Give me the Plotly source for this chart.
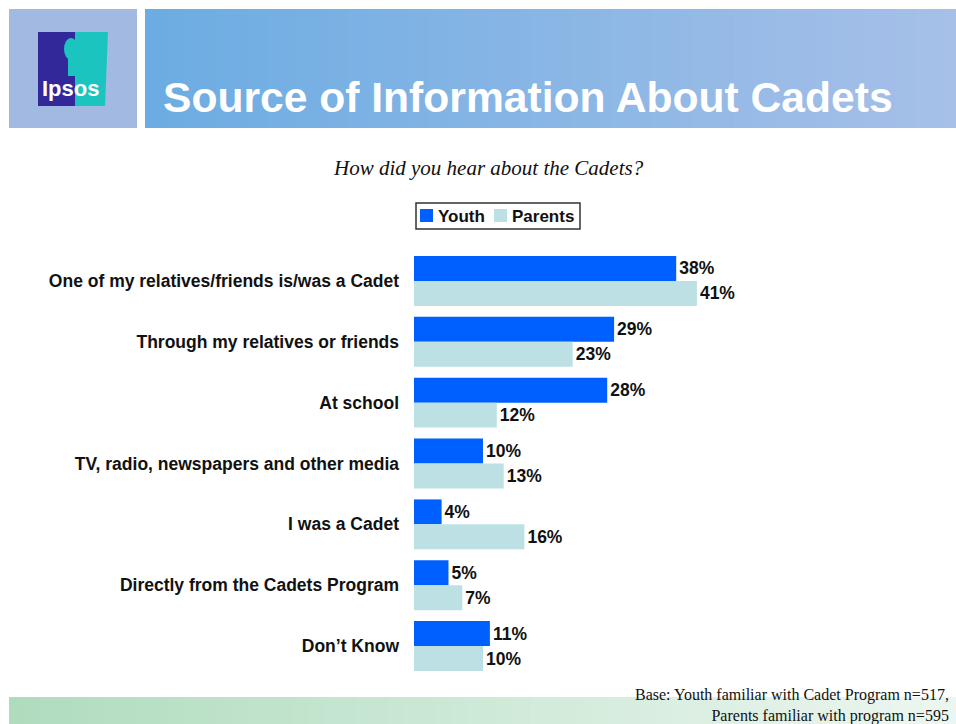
import plotly.graph_objects as go

W, H = 956, 724

categories = [
    "One of my relatives/friends is/was a Cadet",
    "Through my relatives or friends",
    "At school",
    "TV, radio, newspapers and other media",
    "I was a Cadet",
    "Directly from the Cadets Program",
    "Don\u2019t Know",
]
youth = [38, 29, 28, 10, 4, 5, 11]
parents = [41, 23, 12, 13, 16, 7, 10]
series_names = ["Youth", "Parents"]

YOUTH_COLOR = "#0060ff"
PARENT_COLOR = "#bce0e4"
SANS = "Liberation Sans, Arial"
SERIF = "Liberation Serif, Times New Roman"


def px_x(p):
    return p / W


def px_y(p):
    return 1 - p / H


def lerp(c1, c2, t):
    return "rgb(%d,%d,%d)" % tuple(round(a + (b - a) * t) for a, b in zip(c1, c2))


fig = go.Figure()
bar_common = dict(orientation="h", texttemplate="<b>%{x}%</b>", textposition="outside",
                  textfont=dict(family=SANS, size=17.5, color="#111111"),
                  cliponaxis=False, showlegend=False)
fig.add_trace(go.Bar(y=categories, x=youth, name=series_names[0],
                     marker=dict(color=YOUTH_COLOR, line=dict(width=0)), **bar_common))
fig.add_trace(go.Bar(y=categories, x=parents, name=series_names[1],
                     marker=dict(color=PARENT_COLOR, line=dict(width=0)), **bar_common))

shapes = []
# header banner gradient
n = 80
x0, x1 = 145, 956
for i in range(n):
    a = x0 + (x1 - x0) * i / n
    b = x0 + (x1 - x0) * (i + 1) / n + 0.8
    shapes.append(dict(type="rect", xref="paper", yref="paper", layer="below",
                       x0=px_x(a), x1=px_x(b), y0=px_y(128), y1=px_y(9),
                       fillcolor=lerp((108, 172, 226), (166, 192, 232), i / (n - 1)),
                       line=dict(width=0)))
# logo panel
shapes.append(dict(type="rect", xref="paper", yref="paper", layer="below",
                   x0=px_x(9), x1=px_x(137), y0=px_y(128), y1=px_y(9),
                   fillcolor="#a2bae2", line=dict(width=0)))
shapes.append(dict(type="rect", xref="paper", yref="paper",
                   x0=px_x(38), x1=px_x(75), y0=px_y(106), y1=px_y(32),
                   fillcolor="#33289a", line=dict(width=0)))
shapes.append(dict(type="path", xref="paper", yref="paper",
                   path="M %f,%f L %f,%f L %f,%f L %f,%f Z" % (
                       px_x(75), px_y(32), px_x(108), px_y(32),
                       px_x(105), px_y(106), px_x(75), px_y(106)),
                   fillcolor="#1cc4c0", line=dict(width=0)))
# head silhouette
shapes.append(dict(type="circle", xref="paper", yref="paper",
                   x0=px_x(64), x1=px_x(78), y0=px_y(60), y1=px_y(38),
                   fillcolor="#1cc4c0", line=dict(width=0)))
shapes.append(dict(type="rect", xref="paper", yref="paper",
                   x0=px_x(68), x1=px_x(76), y0=px_y(76), y1=px_y(58),
                   fillcolor="#1cc4c0", line=dict(width=0)))
# footer gradient
m = 60
for i in range(m):
    a = 9 + (956 - 9) * i / m
    b = 9 + (956 - 9) * (i + 1) / m + 0.8
    shapes.append(dict(type="rect", xref="paper", yref="paper", layer="below",
                       x0=px_x(a), x1=px_x(b), y0=px_y(724), y1=px_y(697),
                       fillcolor=lerp((176, 220, 190), (236, 246, 240), i / (m - 1)),
                       line=dict(width=0)))

# legend box with two swatches
shapes.append(dict(type="rect", xref="paper", yref="paper",
                   x0=px_x(416), x1=px_x(580), y0=px_y(229), y1=px_y(203),
                   fillcolor="white", line=dict(color="#333333", width=1.5)))
legend_items = [(series_names[0], YOUTH_COLOR, 420), (series_names[1], PARENT_COLOR, 494)]
for name, color, sx in legend_items:
    shapes.append(dict(type="rect", xref="paper", yref="paper",
                       x0=px_x(sx), x1=px_x(sx + 13), y0=px_y(222), y1=px_y(209),
                       fillcolor=color, line=dict(width=0)))

annotations = [
    dict(text="<b>Source of Information About Cadets</b>", xref="paper", yref="paper",
         x=px_x(161), y=px_y(97), xanchor="left", yanchor="middle", showarrow=False,
         font=dict(family=SANS, size=42.6, color="white")),
    dict(text="<b>Ipsos</b>", xref="paper", yref="paper",
         x=px_x(70), y=px_y(88), xanchor="center", yanchor="middle", showarrow=False,
         font=dict(family="Liberation Sans Narrow, Liberation Sans, Arial", size=22, color="white")),
    dict(text="<i>How did you hear about the Cadets?</i>", xref="paper", yref="paper",
         x=px_x(488), y=px_y(168), xanchor="center", yanchor="middle", showarrow=False,
         font=dict(family=SERIF, size=21, color="#111111")),
    dict(text="Base: Youth familiar with Cadet Program n=517,<br>Parents familiar with program n=595",
         xref="paper", yref="paper", x=px_x(951), y=px_y(684), xanchor="right", yanchor="top",
         align="right", showarrow=False,
         font=dict(family=SERIF, size=16, color="#111111")),
]
for name, color, sx in legend_items:
    annotations.append(dict(text="<b>%s</b>" % name, xref="paper", yref="paper",
                            x=px_x(sx + 16), y=px_y(216), xanchor="left", yanchor="middle",
                            showarrow=False, font=dict(family=SANS, size=17, color="#111111")))

fig.update_layout(
    width=W, height=H, margin=dict(l=0, r=0, t=0, b=0),
    paper_bgcolor="white", plot_bgcolor="white",
    barmode="group", bargap=0.18, bargroupgap=0,
    showlegend=False,
    xaxis=dict(domain=[px_x(414), px_x(828)], range=[0, 60], visible=False, fixedrange=True),
    yaxis=dict(domain=[px_y(676.5), px_y(250.5)], autorange="reversed",
               categoryorder="array", categoryarray=categories,
               showline=False, showgrid=False, zeroline=False, ticks="",
               ticklabelstandoff=14,
               tickfont=dict(family=SANS, size=17.5, color="#111111"),
               tickvals=categories, ticktext=["<b>%s</b>" % c for c in categories]),
    shapes=shapes, annotations=annotations,
)

fig.write_html("out.html")
